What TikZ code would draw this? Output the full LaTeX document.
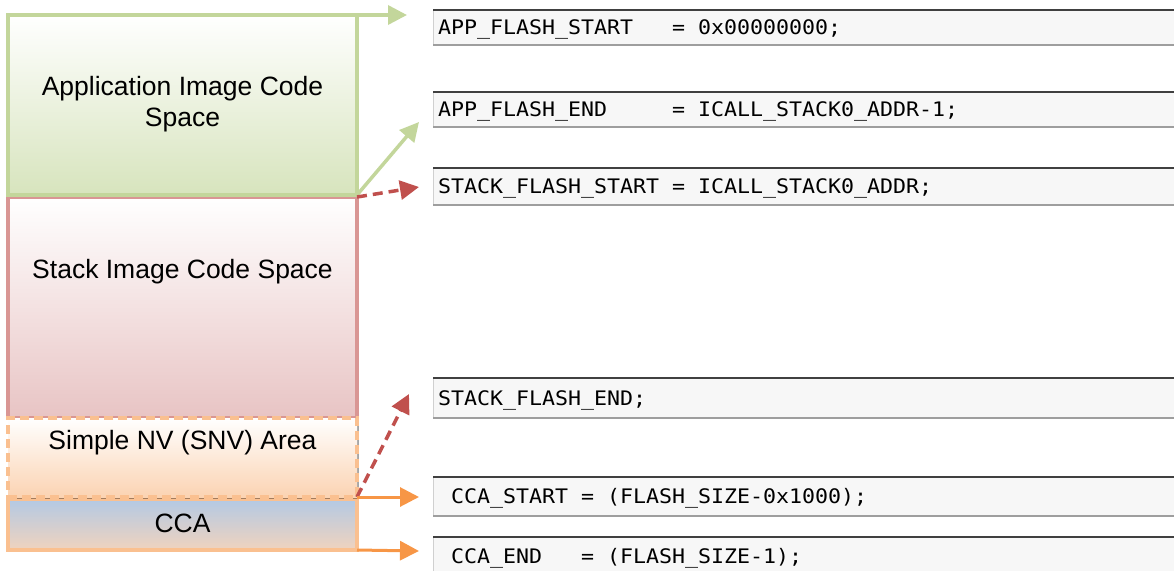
\documentclass[tikz,border=0pt]{standalone}
\usepackage{fontspec}
\setsansfont{Liberation Sans}
\newfontfamily\codefont{DejaVu Sans Mono}[FakeStretch=1.08]
\usetikzlibrary{arrows.meta,shadows}
\definecolor{appedge}{HTML}{C3D69B}
\definecolor{appfill}{HTML}{D7E4BD}
\definecolor{stackedge}{HTML}{D99694}
\definecolor{stackfill}{HTML}{E8C4C4}
\definecolor{snvedge}{HTML}{FAC090}
\definecolor{snvfill}{HTML}{FBD3B2}
\definecolor{ccatop}{HTML}{B3C9E4}
\definecolor{ccabottom}{HTML}{F0D3BE}
\definecolor{arrowred}{HTML}{C0504D}
\definecolor{arroworange}{HTML}{F79646}
\definecolor{codebg}{HTML}{F7F7F7}
\definecolor{codetop}{HTML}{404040}
\definecolor{codebottom}{HTML}{9E9E9E}
\definecolor{codeleft}{HTML}{D0D0D0}
\newcommand{\blank}{\hphantom{0}}

\tikzset{
  block/.style={rectangle,minimum width=349,line width=4pt,inner sep=0pt,outer sep=0pt,
    drop shadow={shadow xshift=2pt,shadow yshift=-2pt,opacity=.35,fill=black}},
  blocktext/.style={font=\sffamily\fontsize{26.5}{31}\selectfont,align=center},
  codeline/.style={rectangle,anchor=west,fill=codebg,draw=codeleft,line width=1pt,outer sep=0pt,
    minimum width=800,text width=790,inner xsep=1.5pt,align=left,
    font=\codefont\fontsize{20}{24}\selectfont,text height=16pt,text depth=2pt,minimum height=#1},
  tip/.style={-{Triangle[length=19pt,width=19pt]}},
  greenarrow/.style={tip,draw=appedge,line width=3.5pt},
  redarrow/.style={tip,draw=arrowred,line width=3.5pt,dash pattern=on 10pt off 6pt},
  orangearrow/.style={tip,draw=arroworange,line width=3pt}
}

\begin{document}
\begin{tikzpicture}[x=1pt,y=-1pt]
  \useasboundingbox (0,0) rectangle (1174,570);
  \clip (0,0) rectangle (1174,570);

  \node[block,draw=stackedge,top color=white,bottom color=stackfill,minimum height=221] (stack) at (182.5,307.5) {};
  \node[block,draw=appedge,top color=white,bottom color=appfill,minimum height=180] (app) at (182.5,105) {};
  \node[block,draw=snvedge,top color=ccatop,middle color=ccatop,bottom color=ccabottom,minimum height=51] (cca) at (182.5,524.5) {};
  \node[block,draw=snvedge,dash pattern=on 9pt off 5pt,top color=white,bottom color=snvfill,minimum height=79] (snv) at (182.5,457.5) {};

  \node[blocktext] (apptxt) at (182.5,104) {Application Image Code\\Space};
  \node[blocktext] (stacktxt) at (182.5,272) {Stack Image Code Space};
  \node[blocktext] (snvtxt) at (182.5,443) {Simple NV (SNV) Area};
  \node[blocktext] (ccatxt) at (182.5,523) {CCA};

  \node[codeline=35] (appstart) at (433,27.5) {APP\_FLASH\_START\blank\blank\blank=\blank0x00000000;};
  \node[codeline=35] (append) at (433,109.5) {APP\_FLASH\_END\blank\blank\blank\blank\blank=\blank ICALL\_STACK0\_ADDR-1;};
  \node[codeline=37] (stackstart) at (433,186.5) {STACK\_FLASH\_START\blank=\blank ICALL\_STACK0\_ADDR;};
  \node[codeline=40] (stackend) at (433,398) {STACK\_FLASH\_END;};
  \node[codeline=39] (ccastart) at (433,496.5) {\blank CCA\_START\blank=\blank(FLASH\_SIZE-0x1000);};
  \node[codeline=38] (ccaend) at (433,556) {\blank CCA\_END\blank\blank\blank=\blank(FLASH\_SIZE-1);};
  \foreach \c in {appstart,append,stackstart,stackend,ccastart,ccaend} {
    \draw[codetop,line width=2pt] (\c.north west) -- (\c.north east);
    \draw[codebottom,line width=2.5pt] (\c.south west) -- (\c.south east);
  }

  \coordinate (appstarttip) at (407,15);
  \coordinate (appendtip) at (419,122);
  \coordinate (stackstarttip) at (419,187);
  \coordinate (stackendtip) at (409,394);
  \coordinate (ccastarttip) at (419,497);
  \coordinate (ccaendtip) at (419,551);

  \draw[greenarrow] (app.north east) -- (appstarttip);
  \draw[greenarrow] (app.south east) -- (appendtip);
  \draw[redarrow] (stack.north east) -- (stackstarttip);
  \draw[redarrow] (snv.south east) -- (stackendtip);
  \draw[orangearrow] (snv.south east) -- (ccastarttip);
  \draw[orangearrow] (cca.south east) -- (ccaendtip);
\end{tikzpicture}
\end{document}
